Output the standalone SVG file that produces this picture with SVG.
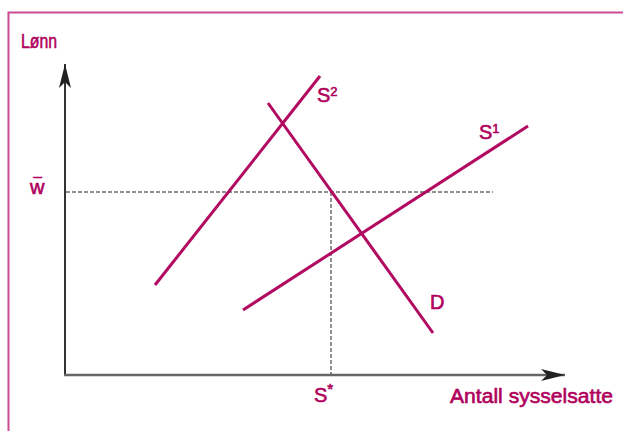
<svg xmlns="http://www.w3.org/2000/svg" width="623" height="431" viewBox="0 0 623 431">
<style>
.lbl{font-family:"Liberation Sans",Arial,sans-serif;fill:#b0005c;stroke:#b0005c;stroke-width:0.6;font-size:20px}
.curve{stroke:#b20a60;stroke-width:3;fill:none;stroke-linecap:butt}
.dash{stroke:#222;stroke-width:1;stroke-dasharray:4 2;fill:none}
</style>
<defs>
<marker id="arr" viewBox="0 0 24 12" refX="24" refY="6" markerWidth="24" markerHeight="12" markerUnits="userSpaceOnUse" orient="auto">
<path d="M0,0 L24,6 L0,12 L6,6 Z" fill="#222"/>
</marker>
</defs>
<rect width="623" height="431" fill="#fff"/>
<path d="M8.5,431 V12.5 H623" fill="none" stroke="#cc4b92" stroke-width="2"/>
<g id="axes">
<line x1="65" y1="375" x2="65" y2="64" stroke="#333" stroke-width="2" marker-end="url(#arr)"/>
<line x1="64" y1="375" x2="565" y2="375" stroke="#666" stroke-width="2.5" marker-end="url(#arr)"/>
</g>
<g id="connectors">
<line class="dash" x1="66" y1="192" x2="493" y2="192"/>
<line class="dash" x1="331" y1="192" x2="331" y2="374"/>
</g>
<g id="S2"><line class="curve" x1="155" y1="285" x2="320" y2="76"/><text class="lbl" x="317" y="102">S<tspan dy="-6" font-size="13">2</tspan></text></g>
<g id="D"><line class="curve" x1="268" y1="103" x2="433" y2="333"/><text class="lbl" x="430" y="309">D</text></g>
<g id="S1"><line class="curve" x1="243" y1="310" x2="528" y2="126"/><text class="lbl" x="479" y="139">S<tspan dy="-6" font-size="13">1</tspan></text></g>
<g id="labels">
<text class="lbl" x="21" y="48" font-size="20" textLength="36" lengthAdjust="spacingAndGlyphs">Lønn</text>
<text class="lbl" x="30" y="194" font-size="21">w<tspan x="33.5" y="188" font-size="15">¯</tspan></text>
<text class="lbl" x="314" y="402" font-size="21">S<tspan dy="-8" font-size="15">*</tspan></text>
<text class="lbl" x="450" y="403" font-size="21" textLength="163" lengthAdjust="spacingAndGlyphs">Antall sysselsatte</text>
</g>
</svg>
